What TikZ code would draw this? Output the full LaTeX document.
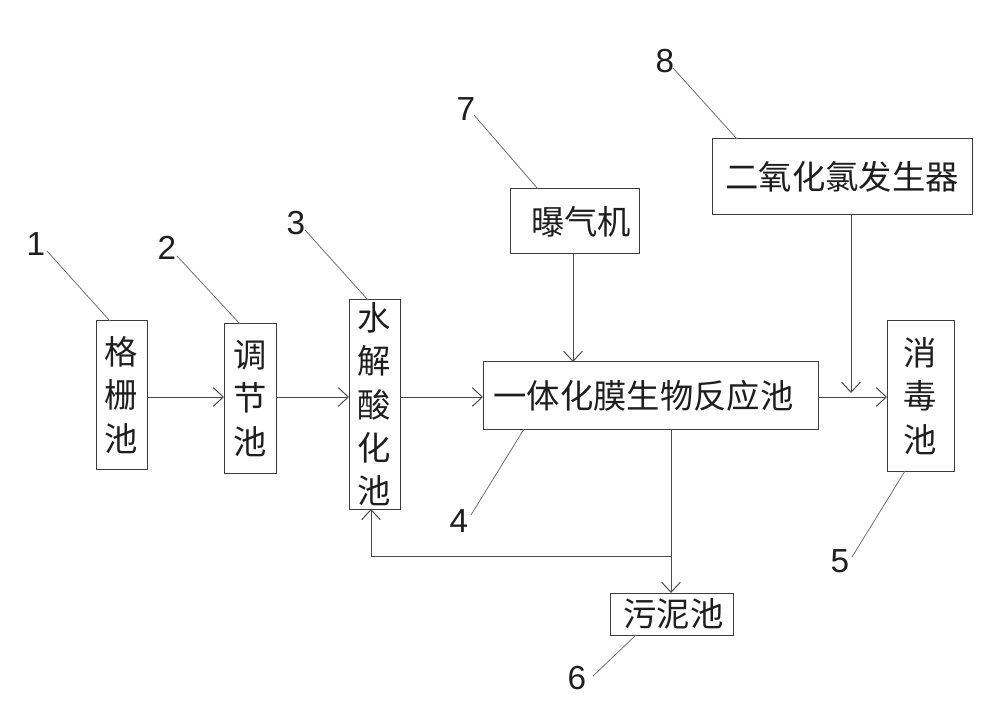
\documentclass[tikz,border=0pt]{standalone}
\usepackage{fontspec}
\setmainfont{Liberation Sans}
\newfontfamily\cjk{Noto Sans CJK SC}
\usetikzlibrary{arrows.meta}
\definecolor{boxc}{HTML}{3C3C3C}
\definecolor{linec}{HTML}{4A4A4A}
\definecolor{leadc}{HTML}{707070}
\definecolor{txtc}{HTML}{1E1E1E}
\begin{document}
\begin{tikzpicture}[x=0.75pt,y=-0.75pt,
  box/.style={draw=boxc, line width=0.75pt, inner sep=0pt, outer sep=0pt,
    font=\cjk\fontsize{25}{32.5}\selectfont, text=txtc, align=center},
  sz/.style 2 args={minimum width=#1*0.75pt, minimum height=#2*0.75pt},
  num/.style={font=\fontsize{25}{25}\selectfont, text=txtc, inner sep=0pt},
  conn/.style={draw=linec, line width=0.75pt, -{Straight Barb[length=7.5pt,width=14pt]}},
  lead/.style={draw=leadc, line width=0.6pt}]
\useasboundingbox (0,0) rectangle (1000,709);
% boxes
\node[box, sz={51}{148}] (b1) at (121.5,395) {格\\栅\\池};
\node[box, sz={52}{149}] (b2) at (250,398.5) {调\\节\\池};
\node[box, sz={51}{209}] (b3) at (374.5,404.5) {水\\解\\酸\\化\\池};
\node[box, sz={335}{67}] (b4) at (650.5,395.5) {一体化膜生物反应池\hspace*{10.5pt}};
\node[box, sz={67}{150}] (b5) at (920.5,396) {消\\毒\\池};
\node[box, sz={123}{42}] (b6) at (671.5,614) {\hspace*{3pt}污泥池};
\node[box, sz={129}{65}] (b7) at (574.5,221.5) {\hspace*{10pt}曝气机};
\node[box, sz={260}{76}] (b8) at (842,177) {二氧化氯发生器};
% main flow
\coordinate (m) at (0,397);
\draw[conn] (b1.east |- m) -- (b2.west |- m);
\draw[conn] (b2.east |- m) -- (b3.west |- m);
\draw[conn] (b3.east |- m) -- (b4.west |- m);
\draw[conn] (b4.east |- m) -- (b5.west |- m);
% aerator and ClO2
\coordinate (ax) at (573,0);
\draw[conn] (b7.south -| ax) -- (b4.north -| ax);
\coordinate (cx) at (851,393);
\draw[conn] (b8.south -| cx) -- (cx);
% sludge and return
\coordinate (sx) at (671,0);
\coordinate (j) at (671,556);
\coordinate (rx) at (371,0);
\draw[conn] (b4.south -| sx) -- (b6.north -| sx);
\draw[conn] (j) -| (b3.south -| rx);
% labels
\node[num] (l1) at (36,244) {1};
\node[num] (l2) at (167,248) {2};
\node[num] (l3) at (296,223) {3};
\node[num] (l4) at (459,521) {4};
\node[num] (l5) at (840,561) {5};
\node[num] (l6) at (577,678) {6};
\node[num] (l7) at (466,109) {7};
\node[num] (l8) at (665,61) {8};
\coordinate (s1) at (47,251);  \coordinate (e1) at (110,321);
\coordinate (s2) at (177,256); \coordinate (e2) at (240,324);
\coordinate (s3) at (305,230); \coordinate (e3) at (368,300);
\coordinate (s4) at (471,515); \coordinate (e4) at (524,429);
\coordinate (s5) at (852,557); \coordinate (e5) at (905,471);
\coordinate (s6) at (593,676); \coordinate (e6) at (636,635);
\coordinate (s7) at (474,115); \coordinate (e7) at (538,189);
\coordinate (s8) at (673,68);  \coordinate (e8) at (737,139);
\draw[lead] (s1) -- (e1);
\draw[lead] (s2) -- (e2);
\draw[lead] (s3) -- (e3);
\draw[lead] (s4) -- (e4);
\draw[lead] (s5) -- (e5);
\draw[lead] (s6) -- (e6);
\draw[lead] (s7) -- (e7);
\draw[lead] (s8) -- (e8);
\end{tikzpicture}
\end{document}
